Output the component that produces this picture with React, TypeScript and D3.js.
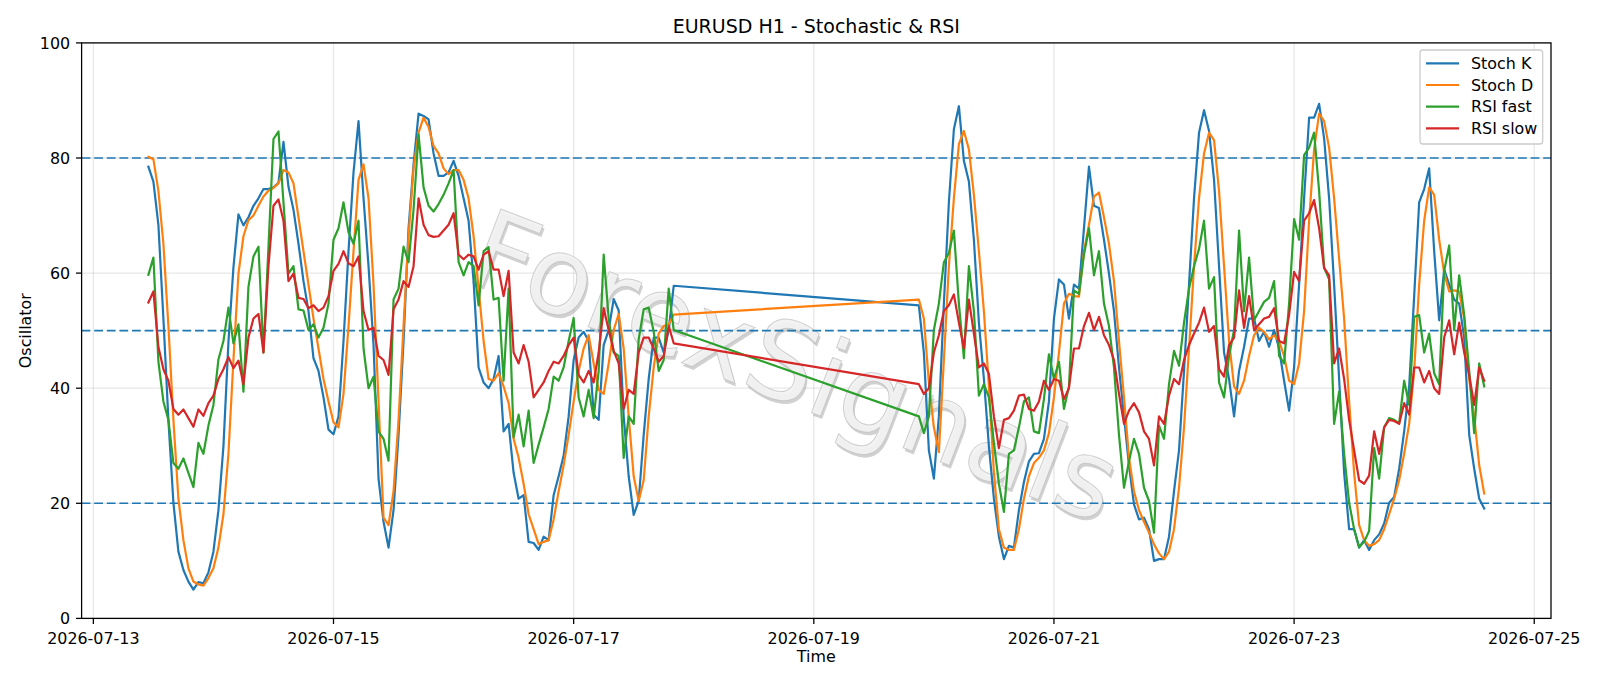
import React, { useEffect, useRef } from "react";
import * as d3 from "d3";

// hourly bars, two trading blocks (the weekend gap is bridged by the line)
const blockStartA = "2026-07-13T11:00:00Z";
const blockStartB = "2026-07-19T21:00:00Z";

const stochK_A = [
  78.5, 75.9, 68.4, 52.1, 34.5, 20.1, 11.6, 8.4, 6.4, 5.0, 6.3, 6.1, 8.0, 11.6, 18.8, 29.9, 48, 61, 70.2, 68.3,
  69.7, 71.7, 73, 74.6, 74.6, 74.9, 75.7, 82.8, 75,
  71.0, 65.1, 58.6, 53.4, 45.2, 43.0, 38.4, 32.8, 32.0, 35.1, 48.2, 63.8, 77.5, 86.4, 73.0, 61.2, 47.5, 24.3, 16.8,
  12.3, 18.8, 31.9, 48.2, 67.8, 78.9, 87.7, 87.3, 86.7, 80.8,
  76.9, 76.9, 77.5, 79.5, 76.9, 73, 69.1, 58.6, 43.6, 41, 40, 41.6, 45.6, 32.5, 33.8, 25.3, 20.8, 21.4, 13.3, 13.1,
  11.9, 14.2, 13.6, 21.4, 24.7, 28.3, 35.1, 44.9, 48.8,
  49.8, 48.2, 35.4, 34.5, 47.5, 50.1, 55.5, 53.5, 35.1, 24.7, 18, 20.4, 31.9, 41.6, 48.8, 48.8, 46.2, 50.1, 57.8,
];
const stochD_A = [
  80.2, 79.8, 74.3, 65.1, 50.8, 34.5, 20.8, 13.6, 8.7, 6.4, 5.9, 5.7, 7.0, 8.7, 12.3, 18.1, 28.6, 44.9, 59.9, 66.4,
  69.2, 70, 71.7, 73.3, 74.3, 74.8, 75.6, 77.9, 77.5,
  75.6, 69.7, 63.8, 58, 52.1, 46.9, 41.6, 37.7, 34.1, 33.2, 39, 50.8, 63.8, 76.2, 78.9, 73, 58, 37.7, 17.5, 16.2,
  22.1, 34.5, 50.8, 66.4, 78.2, 84.4, 87, 85.4, 82.1,
  80.8, 78.2, 77.2, 77.9, 77.9, 76.2, 73, 66.4, 57.3, 48.2, 41.6, 41.3, 42.6, 40.3, 37.4, 31.2, 27.9, 23.4, 18.1,
  15.5, 12.9, 13.3, 13.6, 17.2, 22.1, 26.6, 31.9, 37.7, 43.0,
  46.9, 49.2, 44.3, 39.7, 39, 44.3, 50.1, 52.9, 46.9, 35.1, 24.7, 20.4, 24, 35.1, 43.6, 49.5, 50.8, 51.1, 52.8,
];
const rsiFast_A = [
  59.7, 62.7, 44.6, 37.7, 34.5, 27, 26, 27.8, 25.3, 22.8, 30.5, 28.6, 33.5, 37.1, 45, 48.2, 54, 47.8, 51.1, 39.4,
  57.6, 62.9, 64.6, 46.2, 64.5, 83.3, 84.6, 72.3, 59.9,
  61.2, 53.7, 53.5, 50.1, 51.1, 48.8, 50.5, 54.7, 65.8, 67.8, 72.3, 67.1, 65.1, 69.1, 46.9, 40, 42, 32.5, 31.2, 27.4,
  55.4, 57.3, 64.6, 61.9, 71, 84.1, 74.9, 71.7, 70.7,
  72, 73.6, 75.6, 77.9, 61.9, 59.6, 61.9, 61.2, 54.4, 63.8, 64.5, 55.4, 55.7, 41.3, 57.3, 31.5, 35.4, 29.9, 36.1, 27,
  30.2, 33.2, 36.4, 42, 41.3, 43.6, 48.2, 52.2, 38.4,
  35.1, 39.7, 34.8, 43, 63.2, 52.1, 46.2, 45.6, 27.9, 35.1, 33.8, 48.5, 53.7, 54, 49.8, 43, 44.9, 57.3, 50.1,
];
const rsiSlow_A = [
  54.9, 56.8, 47.2, 43.3, 41.3, 36.4, 35.4, 36.3, 34.8, 33.3, 36.3, 35.2, 37.4, 38.7, 41.6, 43.3, 45.4, 43.5, 44.8,
  40.7, 48.8, 52.1, 52.9, 46.2, 61.2, 71.7, 72.8, 69.1, 58.6,
  59.9, 55.7, 55.5, 53.9, 54.4, 53.4, 54, 56, 60.4, 61.6, 63.8, 61.7, 61.2, 62.9, 53.4, 50.1, 50.5, 45.6, 44.9, 42.3,
  53.7, 55.4, 58.6, 57.6, 61.2, 73, 68.4, 66.6, 66.3,
  66.4, 67.4, 68.4, 70.4, 63.2, 62.4, 63.2, 62.9, 60.6, 63.2, 63.8, 60.6, 60.6, 56, 60.4, 46.2, 44.3, 47.5, 44.6,
  38.4, 39.7, 41, 43, 44.6, 44.3, 45.6, 47.5, 48.8, 42.3,
  41, 43, 41, 46.2, 53.9, 50.1, 46.5, 44.3, 36.4, 39.7, 39, 46.2, 48.8, 48.8, 46.9, 44.6, 45.6, 50.8, 47.8,
];

const stochK_B = [
  54.4, 46.2, 29.2, 24.3, 35.1, 54.7, 72.3, 85, 89, 79.5, 75.9, 65.8, 51.4, 41.6, 29.9, 20.8, 14.2, 10.3, 12.6, 12.3,
  18.8, 23.7, 27.3, 28.6, 28.7, 31.2, 37.7, 52.1,
  58.9, 58, 52.1, 58, 57.3, 67.8, 78.5, 71.7, 71.3, 65.8, 59.9, 53.4, 43.6, 35.1, 26.6, 19.8, 17.2, 17.5, 15.5, 10,
  10.3, 10.3, 14.2, 22.1, 29.2, 43, 58, 73, 84.4,
  88.3, 84.7, 76.2, 61.2, 46.2, 41.6, 35.1, 43, 47.2, 52.1, 52.1, 48.2, 49.8, 47.2, 50.1, 46.9, 41.3, 36.1, 43.6, 58,
  73, 87, 87, 89.4, 83.4, 73, 58, 41.6, 25.3,
  15.5, 15.5, 12.3, 13.6, 11.9, 13.6, 14.6, 16.5, 20.1, 21.1, 26, 32.5, 40.3, 56, 72.3, 74.6, 78.2, 63.8, 51.8, 60.6,
  58, 55.4, 54.7, 48.8, 31.9, 26, 20.8, 19.1,
];
const stochD_B = [
  55.4, 52.1, 41, 33.2, 28.9, 44.9, 61.2, 73, 82.4, 84.7, 81.5, 73.6, 63.8, 53.4, 40.3, 25.3, 15.5, 12.3, 11.9, 11.9,
  15.5, 20.8, 24.7, 27, 27.9, 29.2, 32.2, 38.4,
  46.2, 54.7, 56.4, 56, 55.9, 63.8, 68.4, 73.3, 74, 69.7, 65.1, 58.6, 48.2, 38.4, 27.9, 22.1, 18.8, 16.8, 14.9, 12.9,
  11.3, 10.3, 11.6, 15.5, 22.7, 33.2, 46.9, 61.2, 73,
  80.8, 84.4, 83.1, 74.3, 61.2, 48.2, 40.3, 39, 41.3, 45.6, 49.2, 50.5, 49.8, 48.5, 49.2, 48.2, 45.6, 41.3, 40.7,
  44.3, 53.4, 69.1, 81.5, 87.7, 86.4, 81.8, 73, 62.5, 52.1,
  37.7, 25.3, 16.2, 13.6, 12.6, 12.9, 13.6, 15.5, 18.1, 20.8, 24, 28.6, 33.8, 43, 58, 69.1, 74.9, 73.6, 65.8, 60,
  56.8, 57, 56.8, 52.1, 41.6, 35.1, 26.6, 21.7,
];
const rsiFast_B = [
  35.1, 32.2, 35.1, 50.1, 54.7, 61.9, 63.5, 67.4, 54.7, 45.2, 61.2, 53.4, 38.7, 40.7, 38.4, 30.5, 23.4, 18.5, 28.6,
  29.2, 33.2, 37.7, 38.4, 32.5, 32.2, 38.1, 45.9, 41.6,
  44.6, 36.4, 40.3, 57, 56.4, 63.2, 67.8, 59.6, 63.8, 54.7, 50.8, 43.6, 31.9, 22.7, 27.3, 31.2, 28.6, 22.7, 20.4,
  14.9, 33.5, 31.2, 40.7, 46.5, 43.9, 51.4, 57.3, 61.2, 64.2,
  69.1, 57.3, 59.3, 41, 38.4, 45.6, 50.1, 67.4, 53.4, 62.7, 51.8, 53.4, 55, 55.7, 58.6, 45.6, 44.3, 54.7, 69.4, 65.8,
  80.5, 81.8, 84.4, 74.3, 60.9, 58.9, 33.8, 39.4, 28.6,
  20.1, 15.5, 12.4, 13.3, 15.2, 29.6, 24.3, 33.2, 34.8, 34.5, 33.9, 41.3, 37.1, 52.4, 52.7, 46.2, 49.5, 42.6, 40.7,
  60.4, 64.8, 50.1, 59.6, 52.7, 43, 32.2, 44.3, 40.3,
];
const rsiSlow_B = [
  40.7, 39, 40, 46.2, 49.2, 53.4, 54.4, 56.3, 51.4, 46.9, 55.4, 49.5, 43.6, 44.3, 42.5, 35.1, 29.6, 34.5, 34.8, 36.1,
  38.7, 38.9, 36.4, 36.1, 37.7, 41.3, 39.7, 41.6,
  41.3, 38.1, 40, 46.9, 46.9, 50.8, 53.1, 50.1, 52.4, 49.2, 47.5, 44.9, 39, 33.8, 36.1, 37.4, 35.8, 32.5, 31.2, 26.6,
  35.1, 33.8, 38.7, 41.6, 40.7, 44.9, 47.5, 49.5, 51.4,
  54, 49.8, 50.8, 43.3, 42, 47.5, 48.8, 57, 50.5, 56, 50.1, 51.1, 52.1, 52.4, 53.9, 48.2, 47.8, 52.7, 60.2, 58.6,
  69.1, 70.4, 72.7, 67.8, 60.9, 59.6, 44.3, 46.9, 41.6,
  34.5, 29.2, 24, 23.4, 24.8, 32.5, 28.6, 33.2, 34.5, 34.3, 33.8, 37.4, 35.4, 43.6, 43.6, 41, 43, 40, 39, 48.8, 51.8,
  45.9, 51.4, 46.2, 42.3, 37.1, 43.6, 41.3,
];

const seriesNames = ["Stoch K", "Stoch D", "RSI fast", "RSI slow"];
const seriesColors = ["#1f77b4", "#ff7f0e", "#2ca02c", "#d62728"];
const levels = [20, 50, 80];
const yTicks = [0, 20, 40, 60, 80, 100];
const xTickLabels = ["2026-07-13", "2026-07-15", "2026-07-17", "2026-07-19", "2026-07-21", "2026-07-23", "2026-07-25"];

const W = 1600;
const H = 686;
const margin = { top: 42.9, right: 49, bottom: 67.6, left: 81.6 };
const FONT = "'DejaVu Sans', Verdana, sans-serif";

const hourly = (start: string, vals: number[]) => {
  const t0 = new Date(start).getTime();
  return vals.map((v, i) => ({ t: new Date(t0 + i * 3600e3), v }));
};

export default function App() {
  const ref = useRef<SVGSVGElement | null>(null);

  useEffect(() => {
    const svg = d3.select(ref.current);
    svg.selectAll("*").remove();

    const x0 = margin.left;
    const x1 = W - margin.right;
    const y0 = H - margin.bottom;
    const y1 = margin.top;

    const series = [
      [stochK_A, stochK_B],
      [stochD_A, stochD_B],
      [rsiFast_A, rsiFast_B],
      [rsiSlow_A, rsiSlow_B],
    ].map(([a, b]) => [...hourly(blockStartA, a), ...hourly(blockStartB, b)]);

    // matplotlib-like 5% padding around the data span
    const tMin = series[0][0].t.getTime();
    const tMax = series[0][series[0].length - 1].t.getTime();
    const pad = (tMax - tMin) * 0.05;

    const scaleX = d3.scaleUtc().domain([new Date(tMin - pad), new Date(tMax + pad)]).range([x0, x1]);
    const scaleY = d3.scaleLinear().domain([0, 100]).range([y0, y1]);

    svg.append("rect").attr("width", W).attr("height", H).attr("fill", "#fff");

    const xTicks = xTickLabels.map((s) => new Date(s + "T00:00:00Z"));

    // grid
    const grid = svg.append("g").attr("stroke", "#b0b0b0").attr("stroke-opacity", 0.3).attr("stroke-width", 1.27);
    xTicks.forEach((d) => {
      grid.append("line").attr("x1", scaleX(d)).attr("x2", scaleX(d)).attr("y1", y0).attr("y2", y1);
    });
    yTicks.forEach((d) => {
      grid.append("line").attr("x1", x0).attr("x2", x1).attr("y1", scaleY(d)).attr("y2", scaleY(d));
    });

    const clip = svg.append("defs").append("clipPath").attr("id", "plot-clip");
    clip.append("rect").attr("x", x0).attr("y", y1).attr("width", x1 - x0).attr("height", y0 - y1);

    // watermark: pale glyphs with a soft grey drop shadow
    const wm = svg.append("g").attr("transform", "translate(795,366) rotate(21)").attr("font-family", FONT)
      .attr("font-size", 108).attr("text-anchor", "middle").attr("dominant-baseline", "central");
    wm.append("text").attr("x", 2.5).attr("y", 2.5).attr("fill", "#8c8c8c").attr("fill-opacity", 0.4).text("ForexSignals");
    wm.append("text").attr("fill", "#f2f2f2").attr("fill-opacity", 0.92)
      .attr("stroke", "#bdbdbd").attr("stroke-width", 1).attr("stroke-opacity", 0.7).text("ForexSignals");

    const plot = svg.append("g").attr("clip-path", "url(#plot-clip)");

    levels.forEach((lv) => {
      plot.append("line")
        .attr("x1", x0).attr("x2", x1)
        .attr("y1", scaleY(lv)).attr("y2", scaleY(lv))
        .attr("stroke", "#1f77b4").attr("stroke-width", 1.6)
        .attr("stroke-dasharray", "8.8,3.8");
    });

    const line = d3.line<{ t: Date; v: number }>().x((d) => scaleX(d.t)).y((d) => scaleY(d.v));
    series.forEach((s, i) => {
      plot.append("path")
        .attr("d", line(s))
        .attr("fill", "none")
        .attr("stroke", seriesColors[i])
        .attr("stroke-width", 2.2)
        .attr("stroke-linejoin", "round")
        .attr("stroke-linecap", "square");
    });

    // axes frame
    svg.append("rect").attr("x", x0).attr("y", y1).attr("width", x1 - x0).attr("height", y0 - y1)
      .attr("fill", "none").attr("stroke", "#000").attr("stroke-width", 1.27);

    const xAxis = svg.append("g").attr("transform", `translate(0,${y0})`).attr("font-family", FONT).attr("font-size", 15.9);
    xTicks.forEach((d, i) => {
      const px = scaleX(d);
      xAxis.append("line").attr("x1", px).attr("x2", px).attr("y1", 0).attr("y2", 5.6).attr("stroke", "#000").attr("stroke-width", 1.27);
      xAxis.append("text").attr("x", px).attr("y", 25.3).attr("text-anchor", "middle").attr("fill", "#000").text(xTickLabels[i]);
    });

    const yAxis = svg.append("g").attr("font-family", FONT).attr("font-size", 15.9);
    yTicks.forEach((d) => {
      const py = scaleY(d);
      yAxis.append("line").attr("x1", x0 - 5.6).attr("x2", x0).attr("y1", py).attr("y2", py).attr("stroke", "#000").attr("stroke-width", 1.27);
      yAxis.append("text").attr("x", x0 - 11.4).attr("y", py + 5.7).attr("text-anchor", "end").attr("fill", "#000").text(d);
    });

    svg.append("text").attr("x", (x0 + x1) / 2).attr("y", 661.7).attr("text-anchor", "middle")
      .attr("font-family", FONT).attr("font-size", 15.9).text("Time");
    svg.append("text").attr("transform", `translate(25.5,${(y0 + y1) / 2}) rotate(-90)`).attr("text-anchor", "middle")
      .attr("dy", "0.35em").attr("font-family", FONT).attr("font-size", 15.9).text("Oscillator");
    svg.append("text").attr("x", (x0 + x1) / 2).attr("y", 33.3).attr("text-anchor", "middle")
      .attr("font-family", FONT).attr("font-size", 19).text("EURUSD H1 - Stochastic & RSI");

    // legend
    const lg = svg.append("g").attr("font-family", FONT).attr("font-size", 15.9);
    lg.append("rect").attr("x", 1420).attr("y", 50).attr("width", 122.7).attr("height", 94).attr("rx", 3)
      .attr("fill", "#fff").attr("fill-opacity", 0.8).attr("stroke", "#cccccc").attr("stroke-width", 1.27);
    seriesNames.forEach((name, i) => {
      const cy = 63.3 + i * 21.7;
      lg.append("line").attr("x1", 1426).attr("x2", 1459).attr("y1", cy).attr("y2", cy)
        .attr("stroke", seriesColors[i]).attr("stroke-width", 2.2);
      lg.append("text").attr("x", 1471).attr("y", cy + 5.7).attr("fill", "#000").text(name);
    });
  }, []);

  return (
    <div style={{ position: "absolute", left: 0, top: 0 }}>
      <svg ref={ref} width={W} height={H} style={{ display: "block" }} />
    </div>
  );
}
